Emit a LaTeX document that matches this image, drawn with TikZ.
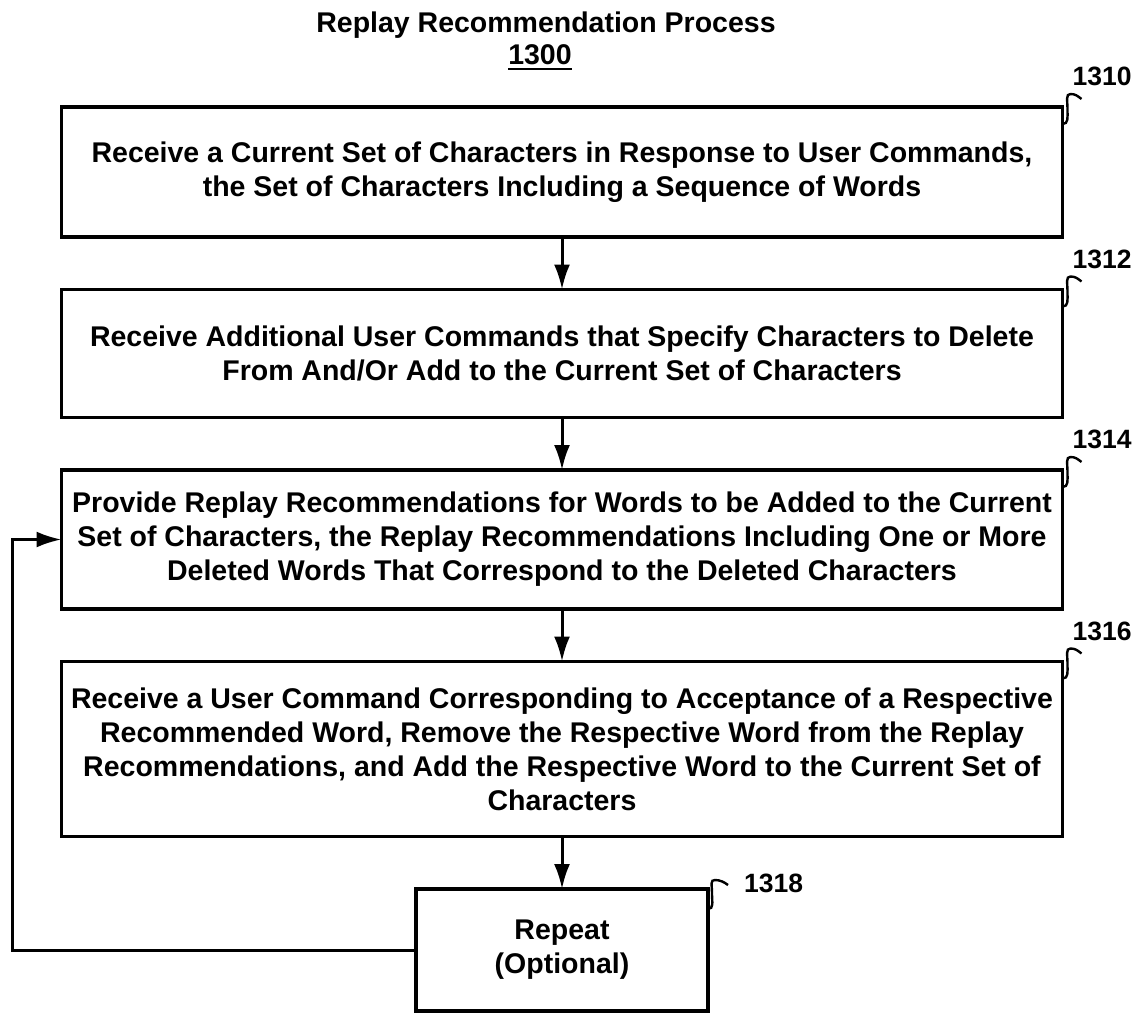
\documentclass[tikz,border=0pt]{standalone}
\usepackage{fontspec}
\setmainfont{Liberation Sans}
\usepackage{tikz}
\usetikzlibrary{arrows.meta, calc, positioning}
\tikzset{
  % Graph arrow style
  garr/.style={
    line width = 3pt
  },
  % squiggly leader to a reference number
  lead/.style={
    line width = 2.4pt
  },
  % reference numbers
  refnum/.style={
    font=\fontsize{26.5}{30}\selectfont\bfseries,
    inner sep=0pt
  },
  % title lines
  ttl/.style={
    font=\fontsize{28.5}{34}\selectfont\bfseries,
    inner sep=0pt
  },
  % process step boxes
  stepbox/.style={
    draw,
    line width=3.5pt,
    inner sep=0pt, outer sep=0pt,
    align=center,
    minimum width=1001pt,
    font=\fontsize{28.5}{34}\selectfont\bfseries
  },
}

\begin{document}
\begin{tikzpicture}[x=1pt, y=-1pt, >={Latex[length=25pt,width=16pt]}, node distance=52.5pt]
  \useasboundingbox (0,0) rectangle (1140,1014);

  \node[ttl, anchor=base] (title) at (546,33) {Replay Recommendation Process};
  \node[ttl, anchor=base] (num) at (540,65) {1300};
  \draw[line width=2.5pt] ($(num.base west)+(0,4)$) -- ($(num.base east)+(0,4)$);

  \node[stepbox, minimum height=130pt, anchor=north] (s1310) at (562,107)
    {Receive a Current Set of Characters in Response to User Commands,\\the Set of Characters Including a Sequence of Words};
  \node[stepbox, minimum height=128pt, below=of s1310] (s1312)
    {Receive Additional User Commands that Specify Characters to Delete\\From And/Or Add to the Current Set of Characters};
  \node[stepbox, minimum height=139pt, below=of s1312] (s1314)
    {Provide Replay Recommendations for Words to be Added to the Current\\Set of Characters, the Replay Recommendations Including One or More\\Deleted Words That Correspond to the Deleted Characters};
  \node[stepbox, minimum height=175pt, below=of s1314] (s1316)
    {Receive a User Command Corresponding to Acceptance of a Respective\\Recommended Word, Remove the Respective Word from the Replay\\Recommendations, and Add the Respective Word to the Current Set of\\Characters};
  \node[stepbox, minimum width=292pt, minimum height=122pt, below=of s1316] (s1318)
    {Repeat\\(Optional)};

      \draw[->,garr] (s1310.south) -- (s1312.north);
      \draw[->,garr] (s1312.south) -- (s1314.north);
      \draw[->,garr] (s1314.south) -- (s1316.north);
      \draw[->,garr] (s1316.south) -- (s1318.north);

      % loop back from Repeat
      \coordinate (back) at (12,0);
      \draw[->,garr] (s1318.west) -- (s1318.west -| back) |- (s1314.west);

      % reference numbers
      \node[refnum, anchor=south west] (r1310) at ($(s1310.north east)+(10,-21)$) {1310};
      \node[refnum, anchor=south west] (r1312) at ($(s1312.north east)+(10,-21)$) {1312};
      \node[refnum, anchor=south west] (r1314) at ($(s1314.north east)+(10,-21)$) {1314};
      \node[refnum, anchor=south west] (r1316) at ($(s1316.north east)+(10,-21)$) {1316};
      \node[refnum, anchor=west] (r1318) at ($(s1318.north east)+(36,-6)$) {1318};

      \draw[lead] ($(s1310.north east)+(0,17)$) .. controls +(6,0) and +(0,8) .. ++(5,-14) .. controls +(0,-10) and +(-5,0) .. ++(3,-16) .. controls +(5,0) and +(-4,-3) .. ++(11,5);
      \draw[lead] ($(s1312.north east)+(0,17)$) .. controls +(6,0) and +(0,8) .. ++(5,-14) .. controls +(0,-10) and +(-5,0) .. ++(3,-16) .. controls +(5,0) and +(-4,-3) .. ++(11,5);
      \draw[lead] ($(s1314.north east)+(0,17)$) .. controls +(6,0) and +(0,8) .. ++(5,-14) .. controls +(0,-10) and +(-5,0) .. ++(3,-16) .. controls +(5,0) and +(-4,-3) .. ++(11,5);
      \draw[lead] ($(s1316.north east)+(0,17)$) .. controls +(6,0) and +(0,8) .. ++(5,-14) .. controls +(0,-10) and +(-5,0) .. ++(3,-16) .. controls +(5,0) and +(-4,-3) .. ++(11,5);
      \draw[lead] ($(s1318.north east)+(0,20)$) .. controls +(6,0) and +(0,8) .. ++(4,-15) .. controls +(0,-10) and +(-5,0) .. ++(3,-14) .. controls +(5,0) and +(-4,-3) .. ++(13,5);
\end{tikzpicture}
\end{document}
